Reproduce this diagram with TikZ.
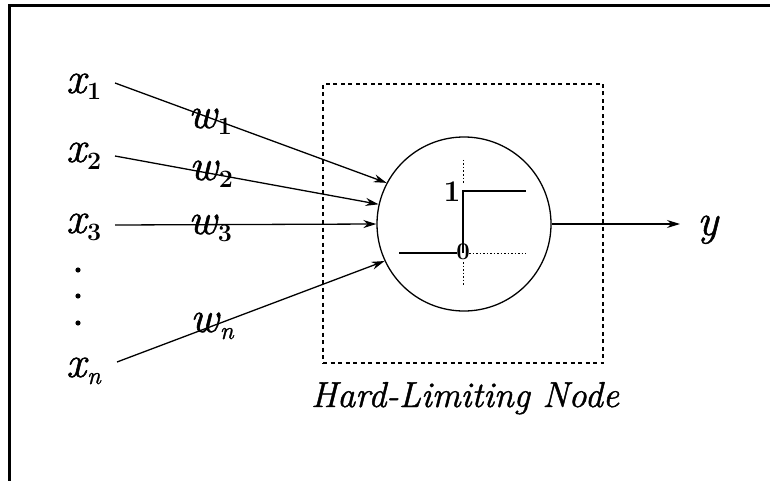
\documentclass[tikz,border=0pt]{standalone}
\usepackage{fontspec}
\setmainfont{Latin Modern Roman}[ItalicFeatures={FakeBold=1.2}]
\usetikzlibrary{arrows.meta}
\newcommand{\mylab}[2]{\fontsize{44}{44}\selectfont\itshape #1\kern1pt\raisebox{-7pt}{\fontsize{25}{25}\selectfont #2}}
\begin{document}
\begin{tikzpicture}[x=1pt,y=-1pt,
  lab/.style={inner sep=0pt, anchor=base west},
  conn/.style={line width=1.3pt, -{Stealth[length=13pt,width=8pt]}},
  dotax/.style={line width=1pt, dash pattern=on 1.5pt off 2pt},
  frame/.style={line width=3pt},
  dbox/.style={draw, line width=1.5pt, dash pattern=on 4pt off 3.5pt, inner sep=0pt},
  bigdot/.style={fill=black}]
\useasboundingbox (0,0) rectangle (770,481);
% frame
\draw[frame] (770,6) -- (9,6) -- (9,481);
% dashed box and node circle
\node[dbox, minimum width=280pt, minimum height=279pt] (box) at (463,223.5) {};
\node[circle, draw, line width=1.3pt, minimum size=174pt, inner sep=0pt] (c) at (464,224) {};
% input labels
\node[lab] (x1) at (66,93) {\mylab{x}{\upshape\bfseries 1}};
\node[lab] (x2) at (66,162) {\mylab{x}{\upshape\bfseries 2}};
\node[lab] (x3) at (66,233) {\mylab{x}{\upshape\bfseries 3}};
\node[lab] (xn) at (66,377) {\mylab{x}{n}};
\fill[bigdot] (78,270) circle (2.6pt);
\fill[bigdot] (78,296) circle (2.6pt);
\fill[bigdot] (78,323) circle (2.6pt);
% weight labels
\node[lab] (w1) at (188,128) {\mylab{w}{\upshape\bfseries 1}};
\node[lab] (w2) at (189,180) {\mylab{w}{\upshape\bfseries 2}};
\node[lab] (w3) at (188,234) {\mylab{w}{\upshape\bfseries 3}};
\node[lab] (wn) at (190,332) {\mylab{w}{n}};
% connectors
\coordinate (s1) at (115,83);
\coordinate (s2) at (115,156);
\coordinate (s3) at (115,225);
\coordinate (sn) at (117,362);
\draw[conn] (s1) -- (c.152.6);
\draw[conn] (s2) -- (c.167);
\draw[conn] (s3) -- (c.180);
\draw[conn] (sn) -- (c.205.7);
% output
\coordinate (yt) at (680,224);
\draw[conn] (c.east) -- (yt);
\node[lab] (y) at (697,235) {\fontsize{44}{44}\selectfont\itshape y};
% step function
\draw[dotax] (463,160) -- (463,184);
\draw[dotax] (463,262) -- (463,286);
\draw[line width=1.3pt] (463,253) -- (463,191) -- (526,191);
\draw[line width=2.2pt] (399,253) -- (457,253);
\draw[dotax] (469,253) -- (526,253);
\node[inner sep=0pt] (one) at (452,192) {\fontsize{30}{30}\selectfont\bfseries 1};
\node[inner sep=0pt] (zero) at (463,252) {\fontsize{24}{24}\selectfont\bfseries 0};
% caption
\node[inner sep=0pt, anchor=base] (cap) at (465,407) {\fontsize{36}{36}\selectfont\itshape Hard-Limiting Node};
\end{tikzpicture}
\end{document}
